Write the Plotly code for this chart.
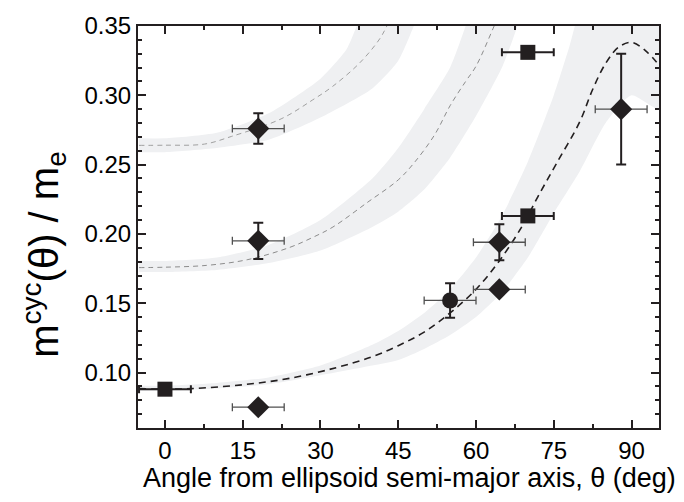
import plotly.graph_objects as go

# ---------------- data ----------------
# measured points
sq_theta = [0, 70, 70]
sq_mass = [0.088, 0.331, 0.213]
sq_xerr = [5, 5, 5]

dia_theta = [18, 18, 18, 64.5, 64.5, 88]
dia_mass = [0.075, 0.195, 0.276, 0.194, 0.160, 0.290]
dia_xerr = [5, 5, 5, 5, 5, 5]
dia_yerr = [0, 0.013, 0.011, 0.013, 0, 0.040]

circ_theta = [55]
circ_mass = [0.152]
circ_xerr = [5]
circ_yerr = [0.0125]

# dashed model curves
low_theta = [-5, 0, 5, 15, 24, 33, 40, 45, 50, 55, 60, 64.5, 69, 72, 75.5, 80, 82.5, 85, 87.5, 90, 93, 95.5]
low_mass = [0.0884, 0.088, 0.0884, 0.0912, 0.0958, 0.1035, 0.1115, 0.1194, 0.1292, 0.1430, 0.1600, 0.1805,
            0.2062, 0.2273, 0.2507, 0.2808, 0.3042, 0.323, 0.3347, 0.3382, 0.3312, 0.3207]

mid_theta = [-5, 0, 8, 16, 24, 28.5, 32.4, 39, 45, 48, 52, 55, 58, 60, 63.5, 66]
mid_mass = [0.1757, 0.176, 0.1773, 0.1815, 0.1902, 0.1975, 0.205, 0.2226, 0.239, 0.251, 0.2714, 0.2925,
            0.310, 0.321, 0.350, 0.372]

top_theta = [-5, 0, 7.6, 12.8, 22.4, 28.5, 32.4, 37.6, 41.4, 42.8, 45]
top_mass = [0.2639, 0.264, 0.2648, 0.2703, 0.283, 0.2967, 0.3066, 0.3235, 0.3406, 0.350, 0.368]

# uncertainty bands (upper / lower edges)
low_up_theta = [-5, 0, 10, 20, 30, 40, 45, 50, 55, 60, 65, 70, 75, 78, 80, 85, 90, 95.5]
low_up_mass = [0.0905, 0.0905, 0.0925, 0.0965, 0.105, 0.12, 0.13, 0.143, 0.16, 0.183, 0.213, 0.252,
               0.30, 0.335, 0.36, 0.38, 0.385, 0.38]
low_lo_theta = [-5, 0, 10, 20, 30, 40, 45, 50, 55, 60, 65, 70, 75, 80, 85, 90, 95.5]
low_lo_mass = [0.087, 0.087, 0.0885, 0.0915, 0.098, 0.105, 0.109, 0.117, 0.127, 0.14, 0.158, 0.183,
               0.215, 0.245, 0.28, 0.30, 0.29]

mid_up_theta = [-5, 0, 10, 20, 30, 40, 45, 50, 55, 58, 61]
mid_up_mass = [0.1805, 0.1805, 0.183, 0.192, 0.21, 0.24, 0.262, 0.29, 0.32, 0.35, 0.385]
mid_lo_theta = [-5, 0, 10, 20, 30, 40, 45, 50, 55, 60, 65, 68, 70]
mid_lo_mass = [0.1725, 0.1725, 0.174, 0.179, 0.188, 0.205, 0.216, 0.232, 0.255, 0.285, 0.32, 0.35, 0.375]

top_up_theta = [-5, 0, 10, 20, 30, 35, 37, 40]
top_up_mass = [0.269, 0.269, 0.273, 0.287, 0.312, 0.333, 0.35, 0.375]
top_lo_theta = [-5, 0, 10, 20, 30, 40, 45, 48, 50]
top_lo_mass = [0.259, 0.259, 0.262, 0.268, 0.284, 0.305, 0.325, 0.35, 0.37]

x_ticks = [0, 15, 30, 45, 60, 75, 90]
y_ticks = [0.10, 0.15, 0.20, 0.25, 0.30, 0.35]

x_title = "Angle from ellipsoid semi-major axis, θ (deg)"
y_title = "m<sup>cyc</sup>(θ) / m<sub>e</sub>"

# ---------------- figure ----------------
BAND = "#eff0f2"
INK = "#231f20"
FAM = "Liberation Sans, Arial, sans-serif"
fig = go.Figure()

for ut, um, lt, lm in [(low_up_theta, low_up_mass, low_lo_theta, low_lo_mass),
                       (mid_up_theta, mid_up_mass, mid_lo_theta, mid_lo_mass),
                       (top_up_theta, top_up_mass, top_lo_theta, top_lo_mass)]:
    fig.add_trace(go.Scatter(
        x=ut + lt[::-1], y=um + lm[::-1], mode="lines", fill="toself",
        fillcolor=BAND, line=dict(width=0, color=BAND, shape="spline", smoothing=0.6),
        hoverinfo="skip", showlegend=False))

fig.add_trace(go.Scatter(x=top_theta, y=top_mass, mode="lines", showlegend=False,
                         line=dict(color="#a0a0a0", width=1, dash="5px,4px", shape="spline")))
fig.add_trace(go.Scatter(x=mid_theta, y=mid_mass, mode="lines", showlegend=False,
                         line=dict(color="#8c8c8c", width=1, dash="5px,4px", shape="spline")))
fig.add_trace(go.Scatter(x=low_theta, y=low_mass, mode="lines", showlegend=False,
                         line=dict(color=INK, width=1.6, dash="7px,5px", shape="spline")))

fig.add_trace(go.Scatter(
    x=sq_theta, y=sq_mass, mode="markers", showlegend=False, cliponaxis=False,
    marker=dict(symbol="square", size=15, color=INK),
    error_x=dict(type="data", array=sq_xerr, color=INK, thickness=2, width=4)))

fig.add_trace(go.Scatter(
    x=dia_theta, y=dia_mass, mode="markers", showlegend=False, cliponaxis=False,
    marker=dict(symbol="diamond", size=17, color=INK),
    error_x=dict(type="data", array=dia_xerr, color="#505050", thickness=1.3, width=4),
    error_y=dict(type="data", array=dia_yerr, color=INK, thickness=2, width=5)))

fig.add_trace(go.Scatter(
    x=circ_theta, y=circ_mass, mode="markers", showlegend=False, cliponaxis=False,
    marker=dict(symbol="circle", size=16, color=INK),
    error_x=dict(type="data", array=circ_xerr, color="#505050", thickness=1.3, width=4),
    error_y=dict(type="data", array=circ_yerr, color=INK, thickness=2, width=5)))

tick_font = dict(family=FAM, size=24, color="black")

# plot area: x 138..659 px, y 15..428 px
PL, PR, PT, PB = 138, 659, 15, 428
PW, PH = PR - PL, PB - PT

fig.update_layout(
    width=684, height=502,
    margin=dict(l=PL, r=684 - PR, t=PT, b=502 - PB),
    paper_bgcolor="white", plot_bgcolor="white",
    font=tick_font,
    xaxis=dict(
        range=[-5.2, 95.3], tickvals=x_ticks, ticktext=[str(v) for v in x_ticks],
        ticks="inside", ticklen=8, tickwidth=2, tickcolor=INK,
        minor=dict(dtick=7.5, tick0=0, ticks="inside", ticklen=4, tickwidth=1.5, tickcolor=INK),
        showline=True, linewidth=2, linecolor=INK, mirror="ticks",
        showgrid=False, zeroline=False, tickfont=tick_font),
    yaxis=dict(
        range=[0.06, 0.35], tickvals=y_ticks, tickformat=".2f",
        ticks="inside", ticklen=8, tickwidth=2, tickcolor=INK,
        minor=dict(dtick=0.01, tick0=0.06, ticks="inside", ticklen=4, tickwidth=1.5, tickcolor=INK),
        showline=True, linewidth=2, linecolor=INK, mirror="ticks",
        showgrid=False, zeroline=False, tickfont=tick_font),
    annotations=[
        dict(text=x_title, xref="paper", yref="paper",
             x=(409 - PL) / PW, y=(PB - 479) / PH, xanchor="center", yanchor="middle",
             showarrow=False, font=dict(family=FAM, size=27, color="black")),
        dict(text=y_title, xref="paper", yref="paper", textangle=-90,
             x=(44 - PL) / PW, y=(PB - 250) / PH, xanchor="center", yanchor="middle",
             showarrow=False, font=dict(family=FAM, size=40, color="black")),
    ],
)

fig.write_html("out.html")
